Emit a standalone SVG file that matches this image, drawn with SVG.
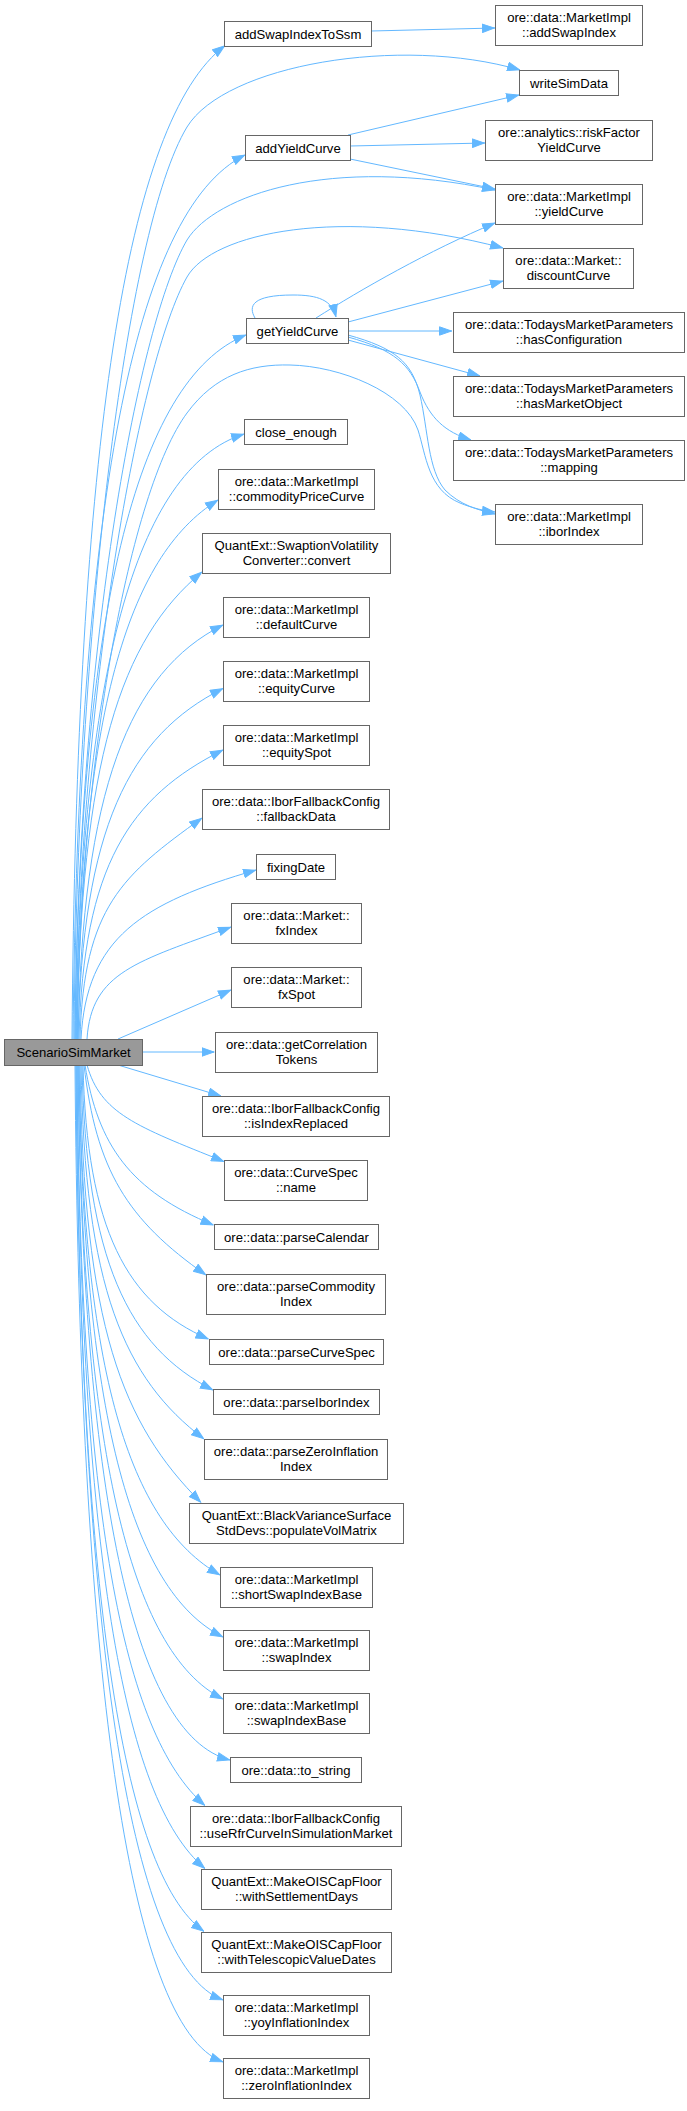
<svg xmlns="http://www.w3.org/2000/svg" width="687" height="2111" viewBox="0 0 687 2111">
<style>
.b{fill:#ffffff;stroke:#666666;stroke-width:1}
.r{fill:#999999;stroke:#666666;stroke-width:1}
.t{font-family:"Liberation Sans",Arial,sans-serif;font-size:13.1px;fill:#000000;text-anchor:middle}
.e{fill:none;stroke:#63b8ff;stroke-width:1;marker-end:url(#ah)}
</style>
<defs>
<marker id="ah" viewBox="0 0 13 10" refX="13" refY="5" markerWidth="13" markerHeight="10" markerUnits="userSpaceOnUse" orient="auto">
<path d="M0.5,0.8 L12.5,5 L0.5,9.2 Z" fill="#63b8ff" stroke="#63b8ff" stroke-width="1"/>
</marker>
</defs>
<rect width="687" height="2111" fill="#ffffff"/>
<g id="edges">
<path class="e" d="M371,31 L495,28"/>
<path class="e" d="M348,135 L519,95"/>
<path class="e" d="M350,146 L485,143"/>
<path class="e" d="M350,159 L495,189"/>
<path class="e" d="M255,318 C248,306 252,295 293,295 C318,295 332,300 336,317"/>
<path class="e" d="M316,318 C360,290 430,250 495,223"/>
<path class="e" d="M348,322 L503,281"/>
<path class="e" d="M348,331 L452,331"/>
<path class="e" d="M348,340 L480,376"/>
<path class="e" d="M348,337 C395,350 410,365 420,392 C430,418 445,432 471,440"/>
<path class="e" d="M348,335 C395,348 412,362 420,395 C428,430 428,470 445,490 C460,505 478,510 495,514"/>
<path class="e" d="M72,1039 C76.6,443 126.1,120.8 225,45.5"/>
<path class="e" d="M74,1039 C77,640 125,230 187,127 C225,65 400,35 520,70"/>
<path class="e" d="M73,1039 C78.2,508.6 133.2,210.9 245,155"/>
<path class="e" d="M75,1039 C78,640 140,320 187,240 C215,195 330,155 495,190"/>
<path class="e" d="M76,1039 C79,690 140,360 187,277 C212,233 340,205 503,248"/>
<path class="e" d="M75,1039 C80.1,616.6 134.9,379.5 246,335"/>
<path class="e" d="M77,1039 C80,760 130,490 187,413 C215,375 250,364 290,365 C340,366 405,392 418,430 C426,455 428,490 460,503 C472,508 485,511 495,512"/>
<path class="e" d="M76,1039 C81,676 134.8,468.9 244,434"/>
<path class="e" d="M77,1039 C81.2,715.6 126.4,556.8 218,500"/>
<path class="e" d="M77,1039 C80.8,758.8 120.8,639.4 202,572"/>
<path class="e" d="M78,1039 C82.4,790.6 128.8,672.1 223,625"/>
<path class="e" d="M78,1039 C82.4,828.7 128.8,735.6 223,688.5"/>
<path class="e" d="M79,1039 C83.3,865.6 129.4,796.8 223,750"/>
<path class="e" d="M80,1039 C83.7,906.4 122.7,875.1 202,818"/>
<path class="e" d="M81,1039 C86.3,937.6 142.3,903 256,870"/>
<path class="e" d="M87,1039 C91.3,971.8 137.4,961.6 231,927"/>
<path class="e" d="M118,1039 L231,990"/>
<path class="e" d="M142,1052 L214.5,1052"/>
<path class="e" d="M118,1065 L221,1096"/>
<path class="e" d="M87,1065 C100.7,1113.3 135,1125.9 224,1161.5"/>
<path class="e" d="M85,1065 C97.9,1145 130,1190.8 213.5,1225"/>
<path class="e" d="M84,1065 C96.2,1170 126.7,1219.5 206,1275"/>
<path class="e" d="M83,1065 C86.8,1229.4 126.9,1303.9 208.5,1339"/>
<path class="e" d="M82,1065 C85.9,1260 127.9,1346.6 213,1390"/>
<path class="e" d="M81,1065 C84.7,1289.1 124.2,1378.3 204,1439"/>
<path class="e" d="M80,1065 C83.6,1327.5 122.4,1423.9 201,1502.5"/>
<path class="e" d="M79,1065 C83.2,1371 128.4,1522.8 220,1575"/>
<path class="e" d="M79,1065 C83.3,1408.2 129.4,1590.2 223,1637"/>
<path class="e" d="M78,1065 C82.4,1445.4 128.8,1651.9 223,1699"/>
<path class="e" d="M78,1065 C82.6,1482 131.2,1735.3 230,1760"/>
<path class="e" d="M77,1065 C80.8,1509.3 121.8,1733.9 205,1805.5"/>
<path class="e" d="M77,1065 C80.8,1547.1 121.8,1799.4 205,1868.5"/>
<path class="e" d="M76,1065 C79.8,1584.9 120.8,1871.6 204,1931.5"/>
<path class="e" d="M76,1065 C80.4,1626 127.5,1964.6 223,2000"/>
<path class="e" d="M75,1065 C79.4,1663.2 126.8,2026.4 223,2062"/>
</g>
<g id="n_root"><rect class="r" x="4.5" y="1039.5" width="138" height="26"/><text class="t" x="73.5" y="1057">ScenarioSimMarket</text></g>
<g id="n_addSwapIndexToSsm"><rect class="b" x="224.5" y="21.5" width="147" height="25"/><text class="t" x="298" y="38.5">addSwapIndexToSsm</text></g>
<g id="n_addSwapIndex"><rect class="b" x="495.5" y="5.5" width="147" height="40"/><text class="t" x="569" y="21.5">ore::data::MarketImpl</text><text class="t" x="569" y="36.5">::addSwapIndex</text></g>
<g id="n_writeSimData"><rect class="b" x="519.5" y="70.5" width="99" height="25"/><text class="t" x="569" y="87.5">writeSimData</text></g>
<g id="n_addYieldCurve"><rect class="b" x="245.5" y="135.5" width="105" height="25"/><text class="t" x="298" y="152.5">addYieldCurve</text></g>
<g id="n_riskFactorYieldCurve"><rect class="b" x="485.5" y="120.5" width="167" height="40"/><text class="t" x="569" y="136.5">ore::analytics::riskFactor</text><text class="t" x="569" y="151.5">YieldCurve</text></g>
<g id="n_yieldCurve"><rect class="b" x="495.5" y="184.5" width="147" height="40"/><text class="t" x="569" y="200.5">ore::data::MarketImpl</text><text class="t" x="569" y="215.5">::yieldCurve</text></g>
<g id="n_discountCurve"><rect class="b" x="503.5" y="248.5" width="130" height="40"/><text class="t" x="568.5" y="264.5">ore::data::Market::</text><text class="t" x="568.5" y="279.5">discountCurve</text></g>
<g id="n_getYieldCurve"><rect class="b" x="246.5" y="318.5" width="102" height="25"/><text class="t" x="297.5" y="335.5">getYieldCurve</text></g>
<g id="n_hasConfiguration"><rect class="b" x="453.5" y="312.5" width="231" height="40"/><text class="t" x="569" y="328.5">ore::data::TodaysMarketParameters</text><text class="t" x="569" y="343.5">::hasConfiguration</text></g>
<g id="n_hasMarketObject"><rect class="b" x="453.5" y="376.5" width="231" height="40"/><text class="t" x="569" y="392.5">ore::data::TodaysMarketParameters</text><text class="t" x="569" y="407.5">::hasMarketObject</text></g>
<g id="n_mapping"><rect class="b" x="453.5" y="440.5" width="231" height="40"/><text class="t" x="569" y="456.5">ore::data::TodaysMarketParameters</text><text class="t" x="569" y="471.5">::mapping</text></g>
<g id="n_iborIndex"><rect class="b" x="495.5" y="504.5" width="147" height="40"/><text class="t" x="569" y="520.5">ore::data::MarketImpl</text><text class="t" x="569" y="535.5">::iborIndex</text></g>
<g id="n_close_enough"><rect class="b" x="244.5" y="419.5" width="103" height="25"/><text class="t" x="296" y="436.5">close_enough</text></g>
<g id="n_commodityPriceCurve"><rect class="b" x="218.5" y="469.5" width="156" height="40"/><text class="t" x="296.5" y="485.5">ore::data::MarketImpl</text><text class="t" x="296.5" y="500.5">::commodityPriceCurve</text></g>
<g id="n_convert"><rect class="b" x="202.5" y="533.5" width="188" height="40"/><text class="t" x="296.5" y="549.5">QuantExt::SwaptionVolatility</text><text class="t" x="296.5" y="564.5">Converter::convert</text></g>
<g id="n_defaultCurve"><rect class="b" x="223.5" y="597.5" width="146" height="40"/><text class="t" x="296.5" y="613.5">ore::data::MarketImpl</text><text class="t" x="296.5" y="628.5">::defaultCurve</text></g>
<g id="n_equityCurve"><rect class="b" x="223.5" y="661.5" width="146" height="40"/><text class="t" x="296.5" y="677.5">ore::data::MarketImpl</text><text class="t" x="296.5" y="692.5">::equityCurve</text></g>
<g id="n_equitySpot"><rect class="b" x="223.5" y="725.5" width="146" height="40"/><text class="t" x="296.5" y="741.5">ore::data::MarketImpl</text><text class="t" x="296.5" y="756.5">::equitySpot</text></g>
<g id="n_fallbackData"><rect class="b" x="202.5" y="789.5" width="187" height="40"/><text class="t" x="296" y="805.5">ore::data::IborFallbackConfig</text><text class="t" x="296" y="820.5">::fallbackData</text></g>
<g id="n_fixingDate"><rect class="b" x="256.5" y="854.5" width="79" height="25"/><text class="t" x="296" y="871.5">fixingDate</text></g>
<g id="n_fxIndex"><rect class="b" x="231.5" y="903.5" width="130" height="40"/><text class="t" x="296.5" y="919.5">ore::data::Market::</text><text class="t" x="296.5" y="934.5">fxIndex</text></g>
<g id="n_fxSpot"><rect class="b" x="231.5" y="967.5" width="130" height="40"/><text class="t" x="296.5" y="983.5">ore::data::Market::</text><text class="t" x="296.5" y="998.5">fxSpot</text></g>
<g id="n_getCorrelationTokens"><rect class="b" x="215.5" y="1032.5" width="162" height="40"/><text class="t" x="296.5" y="1048.5">ore::data::getCorrelation</text><text class="t" x="296.5" y="1063.5">Tokens</text></g>
<g id="n_isIndexReplaced"><rect class="b" x="202.5" y="1096.5" width="187" height="40"/><text class="t" x="296" y="1112.5">ore::data::IborFallbackConfig</text><text class="t" x="296" y="1127.5">::isIndexReplaced</text></g>
<g id="n_curveSpecName"><rect class="b" x="224.5" y="1160.5" width="143" height="40"/><text class="t" x="296" y="1176.5">ore::data::CurveSpec</text><text class="t" x="296" y="1191.5">::name</text></g>
<g id="n_parseCalendar"><rect class="b" x="214.5" y="1224.5" width="164" height="25"/><text class="t" x="296.5" y="1241.5">ore::data::parseCalendar</text></g>
<g id="n_parseCommodityIndex"><rect class="b" x="206.5" y="1274.5" width="179" height="40"/><text class="t" x="296" y="1290.5">ore::data::parseCommodity</text><text class="t" x="296" y="1305.5">Index</text></g>
<g id="n_parseCurveSpec"><rect class="b" x="209.5" y="1339.5" width="174" height="25"/><text class="t" x="296.5" y="1356.5">ore::data::parseCurveSpec</text></g>
<g id="n_parseIborIndex"><rect class="b" x="213.5" y="1389.5" width="166" height="25"/><text class="t" x="296.5" y="1406.5">ore::data::parseIborIndex</text></g>
<g id="n_parseZeroInflationIndex"><rect class="b" x="204.5" y="1439.5" width="183" height="40"/><text class="t" x="296" y="1455.5">ore::data::parseZeroInflation</text><text class="t" x="296" y="1470.5">Index</text></g>
<g id="n_populateVolMatrix"><rect class="b" x="189.5" y="1503.5" width="214" height="40"/><text class="t" x="296.5" y="1519.5">QuantExt::BlackVarianceSurface</text><text class="t" x="296.5" y="1534.5">StdDevs::populateVolMatrix</text></g>
<g id="n_shortSwapIndexBase"><rect class="b" x="220.5" y="1567.5" width="152" height="40"/><text class="t" x="296.5" y="1583.5">ore::data::MarketImpl</text><text class="t" x="296.5" y="1598.5">::shortSwapIndexBase</text></g>
<g id="n_swapIndex"><rect class="b" x="223.5" y="1630.5" width="146" height="40"/><text class="t" x="296.5" y="1646.5">ore::data::MarketImpl</text><text class="t" x="296.5" y="1661.5">::swapIndex</text></g>
<g id="n_swapIndexBase"><rect class="b" x="223.5" y="1693.5" width="146" height="40"/><text class="t" x="296.5" y="1709.5">ore::data::MarketImpl</text><text class="t" x="296.5" y="1724.5">::swapIndexBase</text></g>
<g id="n_to_string"><rect class="b" x="230.5" y="1757.5" width="131" height="25"/><text class="t" x="296" y="1774.5">ore::data::to_string</text></g>
<g id="n_useRfr"><rect class="b" x="190.5" y="1806.5" width="211" height="40"/><text class="t" x="296" y="1822.5">ore::data::IborFallbackConfig</text><text class="t" x="296" y="1837.5">::useRfrCurveInSimulationMarket</text></g>
<g id="n_withSettlementDays"><rect class="b" x="201.5" y="1869.5" width="190" height="40"/><text class="t" x="296.5" y="1885.5">QuantExt::MakeOISCapFloor</text><text class="t" x="296.5" y="1900.5">::withSettlementDays</text></g>
<g id="n_withTelescopicValueDates"><rect class="b" x="201.5" y="1932.5" width="190" height="40"/><text class="t" x="296.5" y="1948.5">QuantExt::MakeOISCapFloor</text><text class="t" x="296.5" y="1963.5">::withTelescopicValueDates</text></g>
<g id="n_yoyInflationIndex"><rect class="b" x="223.5" y="1995.5" width="146" height="40"/><text class="t" x="296.5" y="2011.5">ore::data::MarketImpl</text><text class="t" x="296.5" y="2026.5">::yoyInflationIndex</text></g>
<g id="n_zeroInflationIndex"><rect class="b" x="223.5" y="2058.5" width="146" height="40"/><text class="t" x="296.5" y="2074.5">ore::data::MarketImpl</text><text class="t" x="296.5" y="2089.5">::zeroInflationIndex</text></g>
</svg>
